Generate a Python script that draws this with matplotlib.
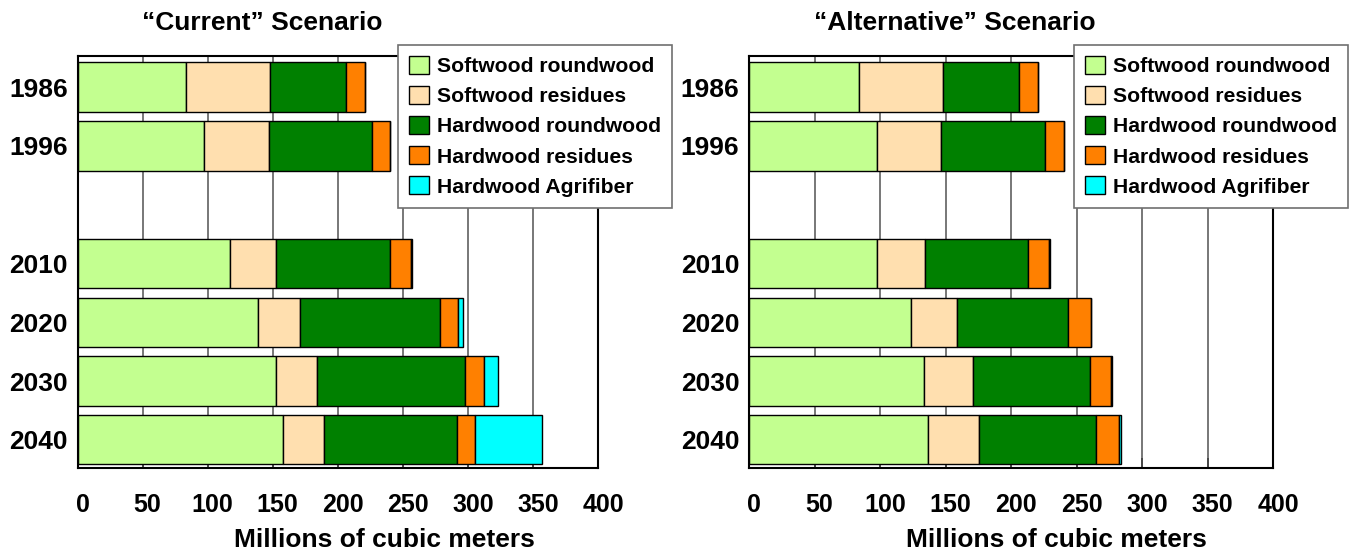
#!/usr/bin/env python3
"""Wood fibre supply by source: "Current" vs "Alternative" scenario."""

import numpy as np
import matplotlib
matplotlib.use('Agg')
import matplotlib.pyplot as plt
import matplotlib.transforms as mtransforms
from matplotlib.patches import Patch

plt.rcParams['font.family'] = ['Liberation Sans', 'DejaVu Sans']
plt.rcParams['font.weight'] = 'bold'

YEARS = ['1986', '1996', '2010', '2020', '2030', '2040']
SLOTS = [0, 1, 3, 4, 5, 6]  # empty slot between 1996 and 2010

SOURCES = ['Softwood roundwood', 'Softwood residues', 'Hardwood roundwood',
           'Hardwood residues', 'Hardwood Agrifiber']
COLORS = ['#C3FF90', '#FFDFAF', '#008000', '#FF8000', '#00FFFF']

# Millions of cubic meters, per year in YEARS order
current_soft_round = [83.6, 97.5, 116.8, 138.7, 152.7, 158.0]
current_soft_resid = [64.6, 49.3, 35.9, 32.5, 31.6, 31.6]
current_hard_round = [57.9, 79.2, 87.7, 107.4, 113.5, 102.2]
current_hard_resid = [14.8, 14.3, 15.6, 14.0, 14.6, 14.0]
current_agrifiber = [0.0, 0.0, 1.4, 3.8, 10.4, 50.8]

alt_soft_round = [83.6, 97.5, 97.6, 123.6, 133.7, 136.7]
alt_soft_resid = [64.6, 49.3, 36.9, 35.1, 37.2, 38.6]
alt_hard_round = [57.9, 79.2, 78.5, 85.1, 89.2, 89.9]
alt_hard_resid = [14.8, 14.3, 16.1, 17.1, 16.3, 16.9]
alt_agrifiber = [0.0, 0.0, 0.5, 0.0, 0.5, 1.6]

W, H = 1349, 553


def draw_panel(fig, ax, series, label_x):
    left = np.zeros(len(YEARS))
    for vals, color in zip(series, COLORS):
        vals = np.array(vals)
        ax.barh(SLOTS, vals, left=left, height=0.84, color=color,
                edgecolor='black', linewidth=1.0, zorder=2)
        left += vals

    ax.set_xlim(0, 400)
    ax.set_ylim(6.48, -0.53)
    ax.set_xticks(range(0, 401, 50))
    ax.set_yticks(SLOTS)
    ax.set_yticklabels(YEARS, fontsize=19, fontweight='bold')
    ax.tick_params(axis='y', length=0, pad=7)
    ax.tick_params(axis='x', direction='in', length=7, width=1.2,
                   color='#404040', labelsize=18, pad=18)
    shift = mtransforms.ScaledTranslation(5 / 100, 0, fig.dpi_scale_trans)
    for lab in ax.get_xticklabels():
        lab.set_fontweight('bold')
        lab.set_transform(lab.get_transform() + shift)
    ax.xaxis.grid(True, color='#606060', linewidth=1.2, zorder=0)
    ax.set_axisbelow(True)
    for sp in ax.spines.values():
        sp.set_linewidth(1.5)
        sp.set_color('black')
    ax.set_xlabel('Millions of cubic meters', fontsize=19, fontweight='bold',
                  labelpad=8)
    ax.xaxis.label.set_x(label_x)


fig = plt.figure(figsize=(W / 100, H / 100), dpi=100)

ax1 = fig.add_axes([77.6 / W, 1 - 468 / H, 520.4 / W, 412 / H])
ax2 = fig.add_axes([749 / W, 1 - 468 / H, 524 / W, 412 / H])

draw_panel(fig, ax1, [current_soft_round, current_soft_resid, current_hard_round,
                      current_hard_resid, current_agrifiber], 0.59)
draw_panel(fig, ax2, [alt_soft_round, alt_soft_resid, alt_hard_round,
                      alt_hard_resid, alt_agrifiber], 0.586)

fig.text(262 / W, 1 - 23 / H, '\u201cCurrent\u201d Scenario', fontsize=19,
         fontweight='bold', ha='center', va='center')
fig.text(955 / W, 1 - 23 / H, '\u201cAlternative\u201d Scenario', fontsize=19,
         fontweight='bold', ha='center', va='center')

handles = [Patch(facecolor=c, edgecolor='black', linewidth=1.0) for c in COLORS]
for x0 in (398, 1074):
    leg = fig.legend(handles, SOURCES, loc='upper left',
                     bbox_to_anchor=(x0 / W, 1 - 45 / H),
                     bbox_transform=fig.transFigure, borderaxespad=0,
                     fancybox=False, framealpha=1, edgecolor='#707070',
                     prop={'size': 15.2, 'weight': 'bold'},
                     handlelength=0.95, handleheight=0.95, handletextpad=0.38,
                     labelspacing=0.46, borderpad=0.52)
    leg.get_frame().set_linewidth(1.2)

fig.savefig('out.png', dpi=100)
